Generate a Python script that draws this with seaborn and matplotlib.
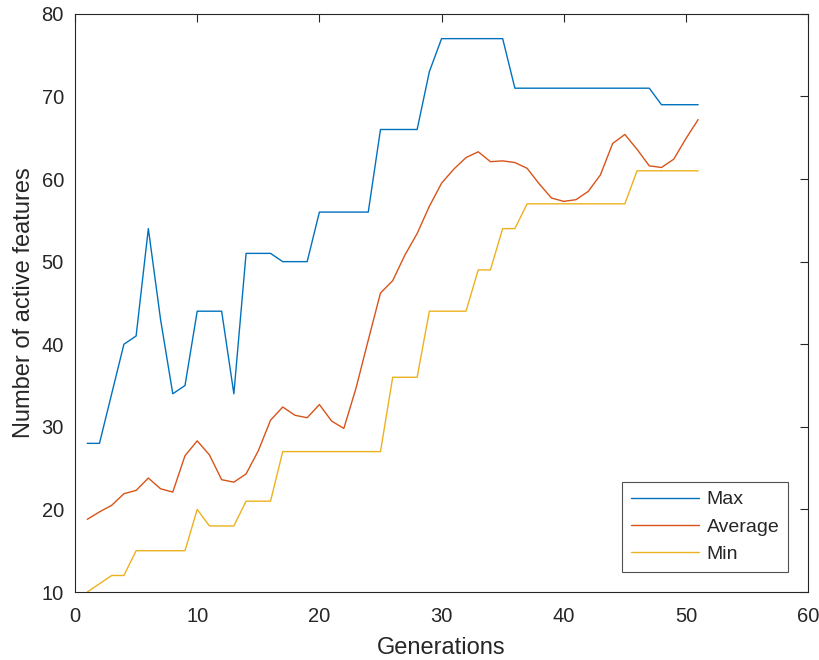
import numpy as np
import pandas as pd
import matplotlib
matplotlib.use("Agg")
import matplotlib.pyplot as plt
import seaborn as sns

generations = list(range(1, 52))
max_vals = [28, 28, 34, 40, 41, 54, 43, 34, 35, 44, 44, 44, 34, 51, 51, 51, 50, 50, 50, 56,
            56, 56, 56, 56, 66, 66, 66, 66, 73, 77, 77, 77, 77, 77, 77, 71, 71, 71, 71, 71,
            71, 71, 71, 71, 71, 71, 71, 69, 69, 69, 69]
avg_vals = [18.8, 19.7, 20.5, 21.9, 22.3, 23.8, 22.5, 22.1, 26.5, 28.3, 26.6, 23.6, 23.3, 24.3,
            27.1, 30.8, 32.4, 31.4, 31.1, 32.7, 30.7, 29.8, 34.7, 40.5, 46.2, 47.7, 50.8, 53.4,
            56.7, 59.5, 61.2, 62.6, 63.3, 62.1, 62.2, 62.0, 61.3, 59.4, 57.7, 57.3, 57.5, 58.5,
            60.5, 64.3, 65.4, 63.6, 61.6, 61.4, 62.4, 64.9, 67.2]
min_vals = [10, 11, 12, 12, 15, 15, 15, 15, 15, 20, 18, 18, 18, 21, 21, 21, 27, 27, 27, 27,
            27, 27, 27, 27, 27, 36, 36, 36, 44, 44, 44, 44, 49, 49, 54, 54, 57, 57, 57, 57,
            57, 57, 57, 57, 57, 61, 61, 61, 61, 61, 61]
series_names = ["Max", "Average", "Min"]
colors = ["#0072BD", "#D95319", "#EDB120"]

df = pd.DataFrame({
    "Generations": generations * 3,
    "value": max_vals + avg_vals + min_vals,
    "series": ["Max"] * 51 + ["Average"] * 51 + ["Min"] * 51,
})

sns.set_style("white")
plt.rcParams["font.family"] = ["Liberation Sans", "DejaVu Sans"]

fig = plt.figure(figsize=(8.2, 6.6), dpi=100)
ax = fig.add_axes([0.0915, 0.103, 0.894, 0.876])
sns.lineplot(data=df, x="Generations", y="value", hue="series", hue_order=series_names,
             palette=colors, linewidth=1.0, ax=ax)

ax.set_xlim(0, 60)
ax.set_ylim(10, 80)
ax.set_xticks(range(0, 61, 10))
ax.set_yticks(range(10, 81, 10))
ax.set_xlabel("Generations", fontsize=17, color="#262626", labelpad=8)
ax.set_ylabel("Number of active features", fontsize=17, color="#262626", labelpad=5)
ax.tick_params(direction="in", length=6, width=0.8, labelsize=14.5, colors="#262626",
               top=True, right=True)
ax.tick_params(axis="x", pad=11)
ax.tick_params(axis="y", pad=8)
for s in ax.spines.values():
    s.set_visible(True)
    s.set_color("#262626")
    s.set_linewidth(0.8)

leg = ax.legend(loc="lower right", fontsize=14, frameon=True, fancybox=False,
                borderpad=0.45, handlelength=3.5, handletextpad=0.4, labelspacing=0.5,
                borderaxespad=0, bbox_to_anchor=(0.973, 0.035))
leg.get_frame().set_edgecolor("#262626")
leg.get_frame().set_linewidth(0.8)

fig.savefig("out.png", dpi=100)
